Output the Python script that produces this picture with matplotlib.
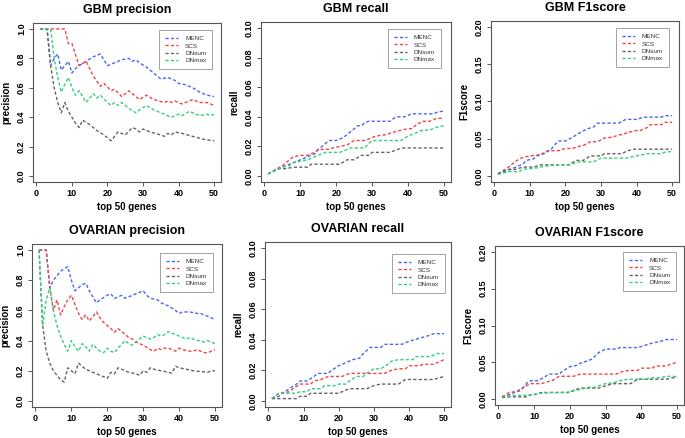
import matplotlib
matplotlib.use("Agg")
import matplotlib.pyplot as plt
from matplotlib.lines import Line2D

plt.rcParams['font.family'] = ['Liberation Sans', 'DejaVu Sans']

series_names = ["MENC", "SCS", "DNsum", "DNmax"]
series_colors = ["#4a66f0", "#ee4646", "#646464", "#32d07a"]
x_ticks = [0, 10, 20, 30, 40, 50]
xlabel_text = "top 50 genes"

# ---------------- GBM precision ----------------
gbm_prec_menc_x = [1, 3, 4, 5, 6, 7, 8, 9, 10, 11, 12, 14, 16, 18, 19, 20, 22, 24, 26, 27, 28, 29, 31, 33, 35, 37, 39, 40, 42, 44, 46, 48, 50]
gbm_prec_menc_y = [1.0, 1.0, 0.75, 0.80, 0.83, 0.72, 0.75, 0.78, 0.70, 0.73, 0.75, 0.78, 0.81, 0.83, 0.79, 0.75, 0.77, 0.79, 0.80, 0.78, 0.79, 0.77, 0.74, 0.70, 0.66, 0.67, 0.65, 0.63, 0.62, 0.60, 0.57, 0.55, 0.54]
gbm_prec_scs_x = [1, 8, 9, 10, 12, 14, 16, 18, 19, 21, 22, 24, 26, 28, 29, 31, 33, 36, 37, 38, 39, 41, 44, 46, 48, 50]
gbm_prec_scs_y = [1.0, 1.0, 0.90, 0.90, 0.75, 0.78, 0.68, 0.61, 0.63, 0.58, 0.59, 0.54, 0.58, 0.54, 0.52, 0.55, 0.52, 0.50, 0.51, 0.50, 0.51, 0.49, 0.52, 0.50, 0.50, 0.48]
gbm_prec_dnsum_x = [1, 3, 4, 5, 6, 7, 8, 9, 10, 11, 12, 13, 15, 17, 19, 21, 22, 23, 25, 27, 28, 29, 30, 32, 35, 36, 37, 38, 39, 41, 44, 47, 50]
gbm_prec_dnsum_y = [1.0, 1.0, 0.75, 0.60, 0.50, 0.43, 0.50, 0.44, 0.40, 0.36, 0.33, 0.38, 0.35, 0.31, 0.28, 0.24, 0.27, 0.30, 0.28, 0.33, 0.32, 0.30, 0.32, 0.30, 0.28, 0.27, 0.29, 0.28, 0.30, 0.29, 0.27, 0.25, 0.24]
gbm_prec_dnmax_x = [1, 4, 5, 6, 7, 8, 9, 10, 11, 12, 14, 16, 17, 18, 20, 21, 22, 23, 24, 26, 28, 29, 31, 33, 36, 38, 40, 41, 43, 44, 46, 48, 49, 50]
gbm_prec_dnmax_y = [1.0, 1.0, 0.80, 0.67, 0.57, 0.625, 0.67, 0.60, 0.55, 0.58, 0.50, 0.56, 0.53, 0.55, 0.50, 0.48, 0.50, 0.48, 0.50, 0.46, 0.43, 0.45, 0.48, 0.45, 0.42, 0.40, 0.42, 0.41, 0.44, 0.43, 0.41, 0.42, 0.41, 0.42]

# ---------------- GBM recall ----------------
gbm_rec_menc_x = [1, 4, 5, 6, 7, 9, 10, 12, 14, 15, 16, 17, 18, 20, 22, 23, 24, 25, 26, 27, 28, 29, 35, 36, 37, 39, 40, 41, 47, 48, 50]
gbm_rec_menc_y = [0.0015, 0.005, 0.006, 0.007, 0.008, 0.010, 0.011, 0.013, 0.015, 0.018, 0.020, 0.022, 0.024, 0.024, 0.026, 0.028, 0.030, 0.032, 0.034, 0.034, 0.036, 0.037, 0.037, 0.039, 0.040, 0.040, 0.041, 0.042, 0.042, 0.043, 0.044]
gbm_rec_scs_x = [1, 5, 7, 8, 10, 12, 14, 15, 18, 19, 21, 23, 25, 28, 30, 31, 34, 35, 38, 40, 41, 42, 44, 46, 48, 50]
gbm_rec_scs_y = [0.0015, 0.007, 0.011, 0.013, 0.014, 0.014, 0.016, 0.018, 0.018, 0.019, 0.020, 0.021, 0.024, 0.024, 0.026, 0.027, 0.028, 0.029, 0.031, 0.032, 0.032, 0.034, 0.037, 0.037, 0.039, 0.039]
gbm_rec_dnsum_x = [1, 4, 6, 8, 12, 13, 21, 23, 25, 27, 29, 30, 35, 37, 39, 50]
gbm_rec_dnsum_y = [0.0015, 0.005, 0.005, 0.006, 0.006, 0.008, 0.008, 0.011, 0.011, 0.014, 0.014, 0.016, 0.016, 0.018, 0.019, 0.019]
gbm_rec_dnmax_x = [1, 5, 7, 8, 10, 12, 14, 17, 21, 23, 24, 28, 29, 30, 38, 40, 42, 44, 46, 48, 50]
gbm_rec_dnmax_y = [0.0015, 0.006, 0.007, 0.009, 0.010, 0.011, 0.013, 0.016, 0.016, 0.018, 0.019, 0.019, 0.022, 0.024, 0.024, 0.027, 0.029, 0.031, 0.031, 0.033, 0.034]

# ---------------- GBM F1score ----------------
gbm_f1_menc_x = [1, 4, 6, 8, 9, 11, 12, 14, 16, 17, 18, 20, 22, 24, 26, 28, 29, 35, 37, 40, 42, 47, 48, 50]
gbm_f1_menc_y = [0.003, 0.008, 0.012, 0.016, 0.021, 0.023, 0.027, 0.030, 0.036, 0.042, 0.047, 0.047, 0.052, 0.058, 0.063, 0.066, 0.071, 0.071, 0.076, 0.076, 0.079, 0.079, 0.081, 0.081]
gbm_f1_scs_x = [1, 4, 6, 8, 10, 12, 14, 15, 18, 20, 22, 24, 25, 27, 29, 31, 33, 35, 36, 38, 40, 41, 43, 44, 47, 48, 50]
gbm_f1_scs_y = [0.003, 0.012, 0.020, 0.025, 0.027, 0.028, 0.031, 0.034, 0.034, 0.037, 0.037, 0.040, 0.041, 0.046, 0.046, 0.051, 0.052, 0.055, 0.056, 0.059, 0.061, 0.061, 0.065, 0.069, 0.069, 0.072, 0.072]
gbm_f1_dnsum_x = [1, 4, 6, 8, 11, 13, 21, 23, 25, 27, 30, 31, 36, 37, 39, 50]
gbm_f1_dnsum_y = [0.003, 0.009, 0.009, 0.012, 0.012, 0.015, 0.015, 0.021, 0.021, 0.027, 0.027, 0.030, 0.030, 0.033, 0.036, 0.036]
gbm_f1_dnmax_x = [1, 4, 7, 8, 10, 12, 14, 17, 21, 23, 24, 28, 29, 30, 37, 39, 41, 43, 47, 48, 50]
gbm_f1_dnmax_y = [0.002, 0.006, 0.006, 0.009, 0.010, 0.011, 0.013, 0.015, 0.015, 0.018, 0.019, 0.019, 0.022, 0.024, 0.024, 0.026, 0.028, 0.030, 0.030, 0.032, 0.033]

# ---------------- OVARIAN precision ----------------
ov_prec_menc_x = [1, 3, 4, 5, 6, 7, 8, 9, 10, 11, 12, 13, 14, 15, 16, 17, 18, 20, 21, 22, 24, 25, 27, 29, 30, 31, 32, 34, 35, 37, 39, 40, 41, 43, 45, 46, 48, 50]
ov_prec_menc_y = [1.0, 1.0, 0.75, 0.80, 0.83, 0.86, 0.875, 0.89, 0.80, 0.73, 0.75, 0.77, 0.78, 0.73, 0.69, 0.65, 0.67, 0.70, 0.71, 0.68, 0.70, 0.68, 0.70, 0.72, 0.73, 0.70, 0.68, 0.67, 0.65, 0.63, 0.60, 0.58, 0.59, 0.59, 0.58, 0.58, 0.56, 0.54]
ov_prec_scs_x = [1, 3, 4, 5, 6, 7, 8, 9, 10, 11, 12, 13, 14, 15, 16, 17, 18, 19, 20, 21, 22, 23, 24, 25, 26, 27, 28, 29, 30, 31, 32, 33, 34, 35, 36, 37, 38, 39, 40, 41, 43, 44, 45, 46, 47, 48, 49, 50]
ov_prec_scs_y = [1.0, 1.0, 0.75, 0.60, 0.67, 0.57, 0.625, 0.67, 0.70, 0.64, 0.58, 0.54, 0.57, 0.53, 0.56, 0.59, 0.55, 0.52, 0.50, 0.48, 0.455, 0.48, 0.46, 0.44, 0.42, 0.41, 0.39, 0.38, 0.37, 0.355, 0.34, 0.33, 0.35, 0.34, 0.35, 0.35, 0.34, 0.33, 0.35, 0.34, 0.33, 0.33, 0.34, 0.33, 0.32, 0.32, 0.33, 0.34]
ov_prec_dnsum_x = [1, 2, 3, 4, 5, 6, 7, 8, 9, 10, 11, 12, 13, 14, 15, 16, 17, 18, 19, 20, 21, 22, 23, 24, 25, 26, 27, 28, 29, 30, 31, 32, 33, 35, 37, 38, 39, 40, 42, 44, 46, 48, 49, 50]
ov_prec_dnsum_y = [1.0, 0.50, 0.33, 0.25, 0.20, 0.17, 0.14, 0.125, 0.22, 0.20, 0.18, 0.25, 0.23, 0.21, 0.20, 0.19, 0.18, 0.17, 0.16, 0.15, 0.19, 0.18, 0.22, 0.21, 0.20, 0.19, 0.185, 0.18, 0.17, 0.20, 0.19, 0.22, 0.21, 0.20, 0.19, 0.185, 0.23, 0.22, 0.21, 0.20, 0.195, 0.19, 0.20, 0.20]
ov_prec_dnmax_x = [1, 2, 3, 4, 5, 6, 7, 8, 9, 10, 11, 12, 13, 14, 15, 16, 17, 18, 19, 20, 21, 22, 23, 24, 25, 26, 27, 28, 29, 30, 31, 32, 33, 34, 35, 36, 37, 38, 39, 40, 42, 43, 45, 46, 47, 48, 49, 50]
ov_prec_dnmax_y = [1.0, 0.50, 0.67, 0.75, 0.60, 0.50, 0.43, 0.375, 0.33, 0.40, 0.36, 0.33, 0.38, 0.36, 0.33, 0.375, 0.35, 0.33, 0.32, 0.35, 0.33, 0.32, 0.35, 0.375, 0.40, 0.38, 0.37, 0.39, 0.41, 0.43, 0.42, 0.41, 0.42, 0.44, 0.43, 0.44, 0.46, 0.45, 0.44, 0.43, 0.41, 0.42, 0.40, 0.40, 0.39, 0.40, 0.39, 0.38]

# ---------------- OVARIAN recall ----------------
ov_rec_menc_x = [1, 3, 4, 6, 8, 9, 11, 13, 14, 17, 18, 20, 21, 22, 24, 26, 27, 28, 29, 32, 33, 38, 40, 43, 46, 47, 50]
ov_rec_menc_y = [0.0015, 0.003, 0.005, 0.008, 0.011, 0.013, 0.013, 0.016, 0.018, 0.018, 0.020, 0.023, 0.024, 0.025, 0.027, 0.028, 0.031, 0.033, 0.035, 0.035, 0.037, 0.037, 0.039, 0.041, 0.043, 0.044, 0.044]
ov_rec_scs_x = [1, 3, 6, 7, 9, 12, 13, 15, 17, 21, 23, 33, 35, 37, 39, 40, 43, 44, 47, 49, 50]
ov_rec_scs_y = [0.0015, 0.005, 0.006, 0.008, 0.011, 0.011, 0.013, 0.014, 0.016, 0.016, 0.018, 0.018, 0.020, 0.021, 0.021, 0.023, 0.023, 0.024, 0.024, 0.026, 0.027]
ov_rec_dnsum_x = [1, 8, 9, 11, 12, 20, 23, 28, 30, 32, 37, 39, 47, 50]
ov_rec_dnsum_y = [0.0015, 0.0015, 0.003, 0.003, 0.005, 0.005, 0.008, 0.008, 0.010, 0.011, 0.011, 0.014, 0.014, 0.016]
ov_rec_dnmax_x = [1, 3, 8, 9, 11, 12, 15, 16, 19, 20, 22, 23, 25, 27, 28, 30, 32, 34, 35, 37, 41, 42, 46, 48, 50]
ov_rec_dnmax_y = [0.0015, 0.005, 0.005, 0.006, 0.006, 0.008, 0.008, 0.010, 0.010, 0.011, 0.011, 0.013, 0.016, 0.016, 0.018, 0.021, 0.021, 0.024, 0.026, 0.027, 0.027, 0.029, 0.029, 0.031, 0.031]

# ---------------- OVARIAN F1score ----------------
ov_f1_menc_x = [1, 3, 5, 7, 8, 9, 11, 13, 14, 17, 18, 20, 22, 23, 25, 26, 27, 28, 30, 33, 34, 39, 41, 43, 45, 47, 50]
ov_f1_menc_y = [0.003, 0.006, 0.010, 0.016, 0.022, 0.025, 0.025, 0.030, 0.034, 0.034, 0.038, 0.044, 0.046, 0.049, 0.052, 0.054, 0.058, 0.063, 0.068, 0.068, 0.070, 0.070, 0.073, 0.076, 0.078, 0.081, 0.081]
ov_f1_scs_x = [1, 3, 6, 7, 9, 12, 14, 15, 17, 21, 23, 33, 35, 37, 39, 40, 43, 44, 47, 48, 50]
ov_f1_scs_y = [0.003, 0.009, 0.011, 0.016, 0.021, 0.021, 0.024, 0.025, 0.031, 0.031, 0.034, 0.034, 0.038, 0.039, 0.039, 0.042, 0.042, 0.045, 0.045, 0.047, 0.050]
ov_f1_dnsum_x = [1, 3, 8, 9, 10, 12, 20, 21, 23, 28, 30, 32, 37, 39, 47, 50]
ov_f1_dnsum_y = [0.002, 0.003, 0.003, 0.006, 0.006, 0.009, 0.009, 0.012, 0.015, 0.015, 0.018, 0.021, 0.021, 0.027, 0.027, 0.030]
ov_f1_dnmax_x = [1, 3, 7, 9, 11, 12, 15, 19, 21, 23, 25, 27, 28, 30, 32, 34, 36, 41, 43, 45, 47, 49, 50]
ov_f1_dnmax_y = [0.002, 0.005, 0.005, 0.006, 0.007, 0.008, 0.009, 0.009, 0.011, 0.013, 0.016, 0.016, 0.018, 0.021, 0.022, 0.025, 0.027, 0.027, 0.029, 0.029, 0.031, 0.031, 0.030]

panel_titles = ["GBM precision", "GBM recall", "GBM F1score",
                "OVARIAN precision", "OVARIAN recall", "OVARIAN F1score"]
panel_ylabels = ["precision", "recall", "F1score", "precision", "recall", "F1score"]
panel_ymax = [1.0, 0.10, 0.20, 1.0, 0.10, 0.20]
panel_yticks = [
    ["0.0", "0.2", "0.4", "0.6", "0.8", "1.0"],
    ["0.00", "0.02", "0.04", "0.06", "0.08", "0.10"],
    ["0.00", "0.05", "0.10", "0.15", "0.20"],
    ["0.0", "0.2", "0.4", "0.6", "0.8", "1.0"],
    ["0.00", "0.02", "0.04", "0.06", "0.08", "0.10"],
    ["0.00", "0.05", "0.10", "0.15", "0.20"],
]
panel_data = [
    [(gbm_prec_menc_x, gbm_prec_menc_y), (gbm_prec_scs_x, gbm_prec_scs_y), (gbm_prec_dnsum_x, gbm_prec_dnsum_y), (gbm_prec_dnmax_x, gbm_prec_dnmax_y)],
    [(gbm_rec_menc_x, gbm_rec_menc_y), (gbm_rec_scs_x, gbm_rec_scs_y), (gbm_rec_dnsum_x, gbm_rec_dnsum_y), (gbm_rec_dnmax_x, gbm_rec_dnmax_y)],
    [(gbm_f1_menc_x, gbm_f1_menc_y), (gbm_f1_scs_x, gbm_f1_scs_y), (gbm_f1_dnsum_x, gbm_f1_dnsum_y), (gbm_f1_dnmax_x, gbm_f1_dnmax_y)],
    [(ov_prec_menc_x, ov_prec_menc_y), (ov_prec_scs_x, ov_prec_scs_y), (ov_prec_dnsum_x, ov_prec_dnsum_y), (ov_prec_dnmax_x, ov_prec_dnmax_y)],
    [(ov_rec_menc_x, ov_rec_menc_y), (ov_rec_scs_x, ov_rec_scs_y), (ov_rec_dnsum_x, ov_rec_dnsum_y), (ov_rec_dnmax_x, ov_rec_dnmax_y)],
    [(ov_f1_menc_x, ov_f1_menc_y), (ov_f1_scs_x, ov_f1_scs_y), (ov_f1_dnsum_x, ov_f1_dnsum_y), (ov_f1_dnmax_x, ov_f1_dnmax_y)],
]

W, H = 685, 438
# axes boxes in pixels: left, right, top, bottom
panel_boxes = [
    (33, 221, 23, 182),
    (261, 451, 22, 182),
    (491, 679, 21, 182),
    (32, 222, 244, 407),
    (265, 451, 242, 407),
    (495, 684, 246, 405),
]
# legend upper-right corners in pixels
legend_corners = [(212, 30), (441, 29), (669, 28), (213, 253), (445, 254), (676, 252)]

fig = plt.figure(figsize=(W / 100, H / 100), dpi=100)
fig.patch.set_facecolor("white")

frame_col = "#555555"
for i in range(6):
    l, r, t, b = panel_boxes[i]
    ax = fig.add_axes([l / W, 1 - b / H, (r - l) / W, (b - t) / H])
    for (xs, ys), col in zip(panel_data[i], series_colors):
        ax.plot(xs, ys, color=col, lw=1.0, linestyle=(0, (2.3, 1.6)))
    ymax = panel_ymax[i]
    ax.set_xlim(1 - 0.04 * 49, 50 + 0.04 * 49)
    ax.set_ylim(-0.04 * ymax, ymax * 1.04)
    labels = panel_yticks[i]
    ax.set_yticks([float(s) for s in labels])
    ax.set_yticklabels(labels, rotation=90, va="center", fontsize=6.5, fontweight="bold")
    ax.set_xticks(x_ticks)
    ax.set_xticklabels([str(v) for v in x_ticks], fontsize=6.5, fontweight="bold")
    ax.tick_params(direction="out", length=3, width=0.7, color=frame_col, pad=2)
    for s in ax.spines.values():
        s.set_color(frame_col)
        s.set_linewidth(0.8)
    ax.set_title(panel_titles[i], fontsize=9, fontweight="bold", pad=7)
    ax.set_xlabel(xlabel_text, fontsize=7, fontweight="bold", labelpad=3)
    ax.set_ylabel(panel_ylabels[i], fontsize=7, fontweight="bold", labelpad=4)

    handles = [Line2D([0], [0], color=c, lw=1.0, linestyle=(0, (2.3, 1.6))) for c in series_colors]
    lx, ly = legend_corners[i]
    leg = ax.legend(handles, series_names, loc="upper right",
                    bbox_to_anchor=(lx / W, 1 - ly / H), bbox_transform=fig.transFigure,
                    fontsize=4.6, frameon=True, fancybox=False, handlelength=2.1,
                    handletextpad=1.1, borderpad=0.9, labelspacing=0.3,
                    borderaxespad=0)
    leg.get_frame().set_edgecolor("#777777")
    leg.get_frame().set_linewidth(0.6)
    for txt in leg.get_texts():
        txt.set_color("#333333")

fig.savefig("out.png", dpi=100)
